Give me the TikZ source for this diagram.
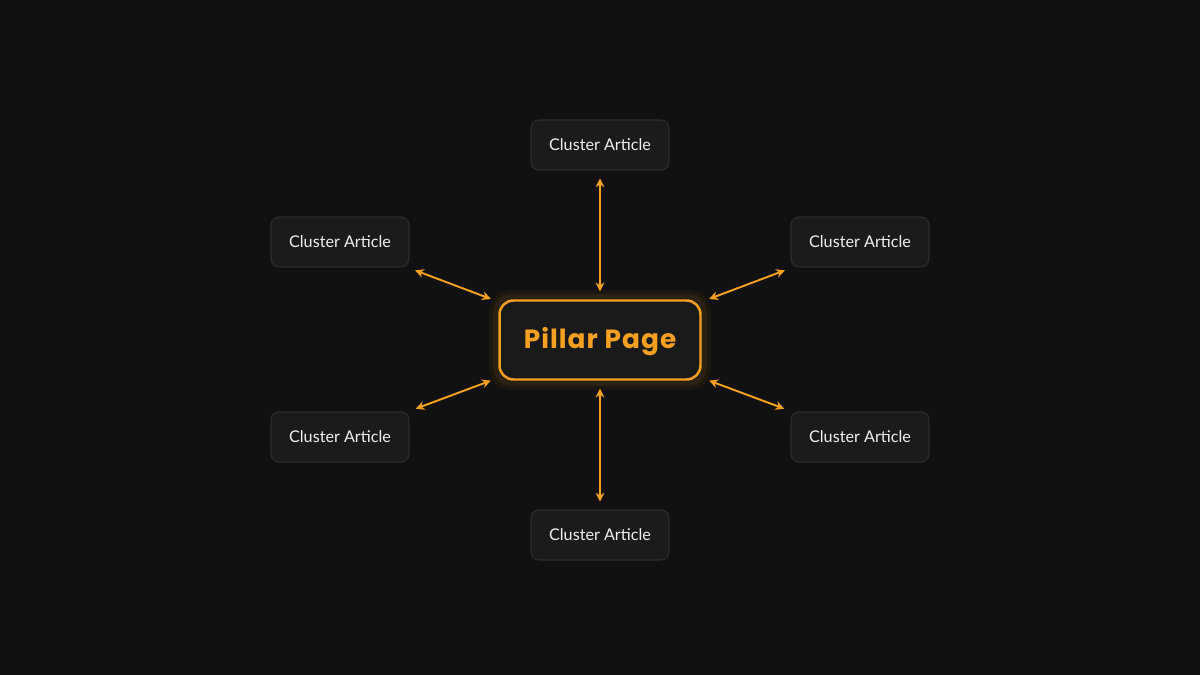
\documentclass[tikz,border=0pt]{standalone}
\usepackage{fontspec}
\setmainfont{Lato}
\newfontfamily\pillarfont[LetterSpace=4]{Poppins}
\usetikzlibrary{arrows.meta}
\definecolor{bg}{HTML}{111111}
\definecolor{cardfill}{HTML}{1B1B1B}
\definecolor{cardedge}{HTML}{2C2C2C}
\definecolor{orng}{HTML}{F5A020}
\definecolor{pfill}{HTML}{1A1A1A}
\definecolor{ctext}{HTML}{F0F0F0}
\begin{document}
\begin{tikzpicture}[x=0.02cm,y=-0.02cm,
  card/.style={draw=cardedge,fill=cardfill,line width=0.6pt,rounded corners=0.16cm,
    minimum width=2.76cm,minimum height=1cm,inner sep=0pt,text=ctext,
    font=\fontsize{9.2}{10}\selectfont},
  pillar/.style={draw=orng,fill=pfill,line width=1.4pt,rounded corners=0.28cm,
    minimum width=4.02cm,minimum height=1.58cm,inner sep=0pt},
  pillartext/.style={text=orng,font=\pillarfont\bfseries\fontsize{15}{17}\selectfont},
  link/.style={draw=orng,line width=1.1pt,{Stealth[length=5pt,width=5pt]}-{Stealth[length=5pt,width=5pt]},
    shorten <=8pt*0.567,shorten >=8pt*0.567}
]
\fill[bg] (0,0) rectangle (1200,675);
\useasboundingbox (0,0) rectangle (1200,675);
% glow
\fill[orng,opacity=0.07,rounded corners=0.38cm] (493,294) rectangle (707,386);
\fill[orng,opacity=0.05,rounded corners=0.44cm] (489,290) rectangle (711,390);
\node[pillar] (p) at (600,340) {};
\node[pillartext] (pt) at (600,342) {Pillar Page};
\node[card] (t)  at (600,145) {Cluster Article};
\node[card] (tl) at (340,242) {Cluster Article};
\node[card] (tr) at (860,242) {Cluster Article};
\node[card] (bl) at (340,437) {Cluster Article};
\node[card] (br) at (860,437) {Cluster Article};
\node[card] (b)  at (600,535) {Cluster Article};
\draw[link] (t) -- (p);
\draw[link] (b) -- (p);
\draw[link] (tl) -- (p);
\draw[link] (tr) -- (p);
\draw[link] (bl) -- (p);
\draw[link] (br) -- (p);
\end{tikzpicture}
\end{document}
